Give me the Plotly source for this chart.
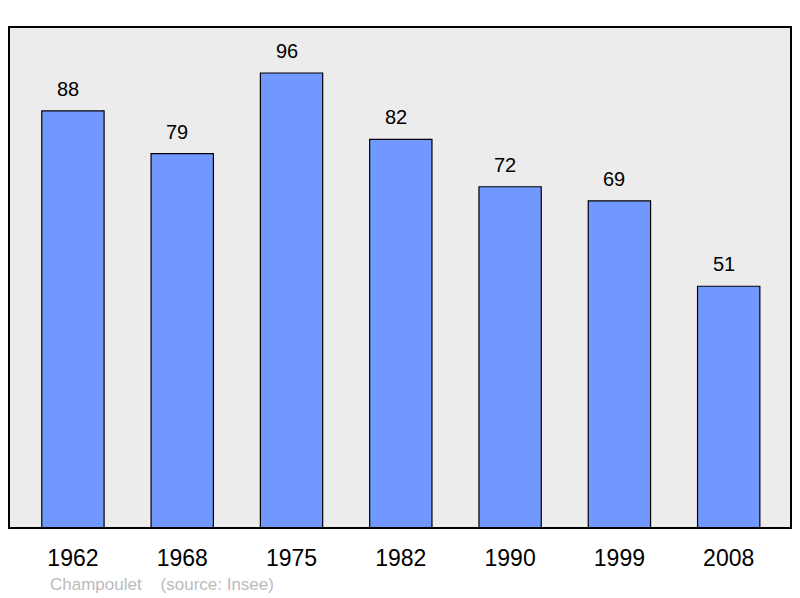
import plotly.graph_objects as go

years = ["1962", "1968", "1975", "1982", "1990", "1999", "2008"]
population = [88, 79, 96, 82, 72, 69, 51]

FONT = "Liberation Sans, Arial, sans-serif"

fig = go.Figure()
fig.add_trace(go.Bar(
    x=years, y=population,
    marker=dict(color="#7098ff", line=dict(color="#000000", width=1.2)),
    width=0.57,
    hoverinfo="skip",
))
for i, v in enumerate(population):
    fig.add_annotation(x=i, y=v, text=str(v), showarrow=False, yanchor="bottom",
                       yshift=9, xshift=-5, font=dict(family=FONT, size=20, color="#000"))

fig.add_shape(type="rect", xref="paper", yref="paper", x0=0, x1=1, y0=0, y1=1,
              line=dict(color="#000", width=2), layer="above")
fig.add_annotation(xref="paper", yref="paper", x=(48-9)/782, y=-(584-528)/501,
                   xanchor="left", yanchor="middle", showarrow=False,
                   text="Champoulet&nbsp;&nbsp;&nbsp;&nbsp;(source: Insee)",
                   font=dict(family=FONT, size=17, color="#bbbbbb"))

fig.update_layout(
    width=800, height=598,
    margin=dict(l=9, r=9, t=27, b=70),
    paper_bgcolor="#ffffff", plot_bgcolor="#ececec",
    showlegend=False,
    xaxis=dict(type="category", range=[-0.585, 6.57], showgrid=False, zeroline=False,
               ticks="outside", ticklen=9, tickcolor="rgba(0,0,0,0)",
               tickfont=dict(family=FONT, size=23, color="#000")),
    yaxis=dict(range=[0, 105.7], showgrid=False, zeroline=False, showticklabels=False),
)

div = fig.to_html(full_html=False, include_plotlyjs=True,
                  config={"displayModeBar": False, "staticPlot": True})
html = ("<!DOCTYPE html><html><head><meta charset='utf-8'>"
        "<style>html,body{margin:0;padding:0;overflow:hidden;}</style></head><body>"
        + div + "</body></html>")
with open("out.html", "w", encoding="utf-8") as f:
    f.write(html)
